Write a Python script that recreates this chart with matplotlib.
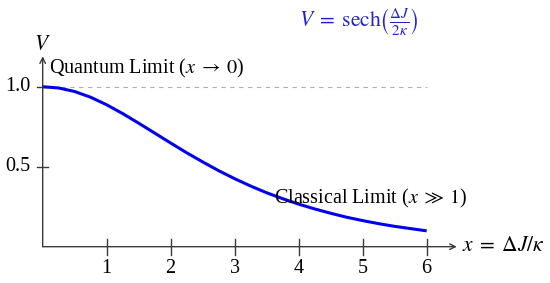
import matplotlib
matplotlib.use("Agg")
import matplotlib.pyplot as plt

# Data
x_vals = [0, 0.25, 0.5, 0.75, 1, 1.25, 1.5, 1.75, 2, 2.25, 2.5, 2.75, 3,
          3.25, 3.5, 3.75, 4, 4.25, 4.5, 4.75, 5, 5.25, 5.5, 5.75, 6]
v_vals = [1.0, 0.992, 0.970, 0.934, 0.887, 0.832, 0.772, 0.710, 0.648, 0.587,
          0.530, 0.475, 0.425, 0.379, 0.337, 0.300, 0.266, 0.236, 0.209, 0.184,
          0.163, 0.144, 0.127, 0.113, 0.099]
x_ticks = [1, 2, 3, 4, 5, 6]
x_tick_labels = ["1", "2", "3", "4", "5", "6"]
y_ticks = [0.5, 1.0]
y_tick_labels = ["0.5", "1.0"]

plt.rcParams['font.family'] = ['Liberation Serif', 'DejaVu Serif']
plt.rcParams['mathtext.fontset'] = 'stix'

fig = plt.figure(figsize=(5.5, 2.83), dpi=100)
ax = fig.add_axes([0, 0, 1, 1])
ax.set_xlim(-0.667, 7.927)
ax.set_ylim(-0.227, 1.542)
ax.axis('off')

axcol = '#3a3a3a'
fs = 14.5

# reference dashed line at V = 1
ax.plot([0, 6], [1, 1], ls=(0, (4, 4)), color='#b0b0b0', lw=0.8)

# axes with arrows
ax.annotate('', xy=(6.47, 0), xytext=(0, 0),
            arrowprops=dict(arrowstyle='->', color=axcol, lw=1.0, shrinkA=0, shrinkB=0))
ax.annotate('', xy=(0, 1.19), xytext=(0, 0),
            arrowprops=dict(arrowstyle='->', color=axcol, lw=1.0, shrinkA=0, shrinkB=0))

for t, lab in zip(x_ticks, x_tick_labels):
    ax.plot([t, t], [-0.05, 0.05], color=axcol, lw=1.0)
    ax.text(t, -0.135, lab, ha='center', va='center', fontsize=fs)
for t, lab in zip(y_ticks, y_tick_labels):
    ax.plot([-0.09, 0.09], [t, t], color=axcol, lw=1.0)
    ax.text(-0.19, t, lab, ha='right', va='center', fontsize=fs)

# curve
ax.plot(x_vals, v_vals, color='#0000ee', lw=2.2, solid_capstyle='butt')

# labels
ax.text(0, 1.26, r'$V$', ha='center', va='center', fontsize=fs + 1)
ax.text(6.55, 0, r'$x\;=\;\Delta J/\kappa$', ha='left', va='center', fontsize=fs + 1)
ax.text(0.1, 1.115, r'Quantum Limit ($x\;\rightarrow\;0$)', ha='left', va='center', fontsize=fs)
ax.text(3.62, 0.30, r'Classical Limit ($x\;\gg\;1$)', ha='left', va='center', fontsize=fs)
ax.text(4.94, 1.40, r'$V\;=\;\mathrm{sech}\left(\frac{\Delta J}{2\kappa}\right)$',
        ha='center', va='center', fontsize=fs + 1, color='#2222cc')

fig.savefig('out.png', dpi=100)
